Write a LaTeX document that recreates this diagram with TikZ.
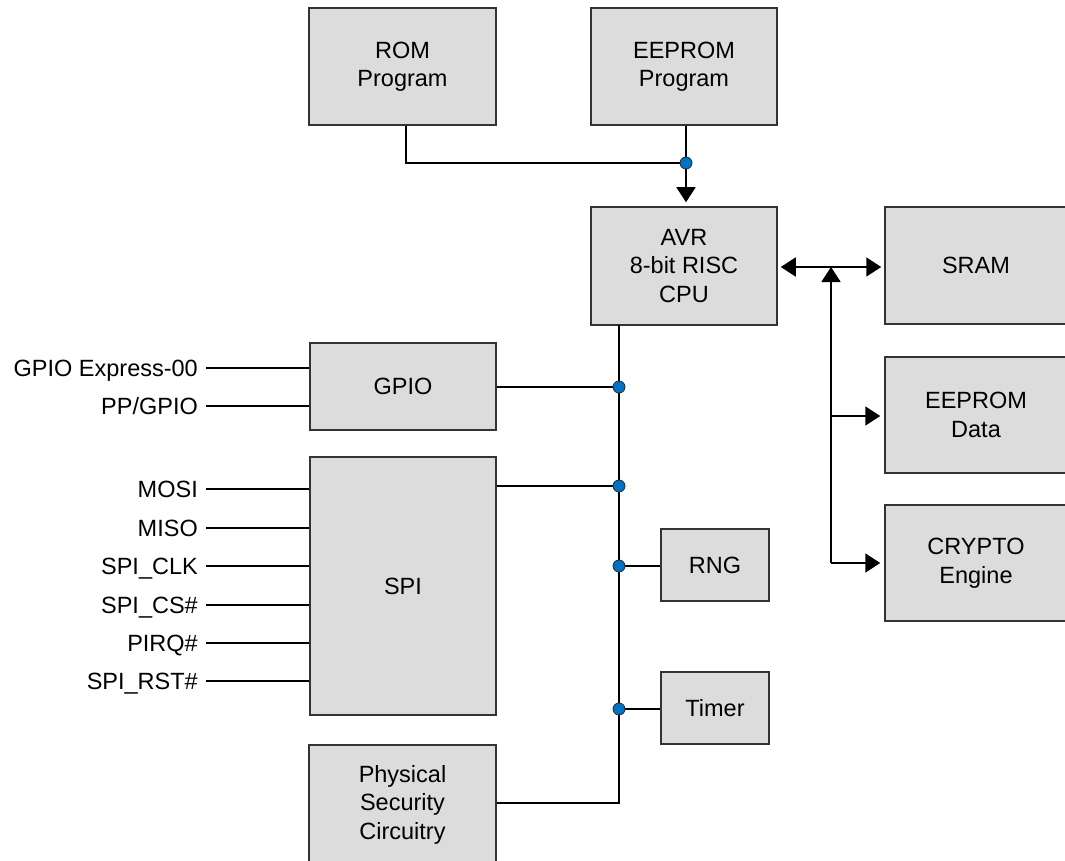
\documentclass[tikz,border=0pt]{standalone}
\usepackage{fontspec}
\setmainfont{Liberation Sans}
\usetikzlibrary{arrows.meta}
\definecolor{boxfill}{HTML}{DCDCDC}
\definecolor{boxline}{HTML}{333333}
\definecolor{dotblue}{HTML}{0072C6}
\begin{document}
\begin{tikzpicture}[x=1pt,y=-1pt, font=\fontsize{23.5}{28.5}\selectfont,
  blk/.style={draw=boxline, fill=boxfill, line width=1.5pt, inner sep=0pt, align=center},
  wire/.style={line width=1.8pt, draw=black},
  jdot/.style={circle, fill=dotblue, draw=black!85, line width=0.8pt, minimum size=12pt, inner sep=0pt},
  arr/.style={-{Triangle[length=15pt,width=19pt]}},
  darr/.style={{Triangle[length=15pt,width=19pt]}-{Triangle[length=15pt,width=19pt]}},
  sig/.style={anchor=east, inner sep=0pt, text height=17pt, text depth=0pt}]
\useasboundingbox (0,0) rectangle (1065,861);
\fill[white] (0,0) rectangle (1065,861);

% blocks
\node[blk, minimum width=187pt, minimum height=117pt] (rom) at (402.5,66.5) {ROM\\Program};
\node[blk, minimum width=186pt, minimum height=117pt] (eep) at (684,66.5) {EEPROM\\Program};
\node[blk, minimum width=186pt, minimum height=118pt] (avr) at (684,266) {AVR\\8-bit RISC\\CPU};
\node[blk, minimum width=182pt, minimum height=117pt] (sram) at (976,265.5) {SRAM};
\node[blk, minimum width=182pt, minimum height=116pt] (eepd) at (976,415) {EEPROM\\Data};
\node[blk, minimum width=182pt, minimum height=116pt] (crypto) at (976,563) {CRYPTO\\Engine};
\node[blk, minimum width=186pt, minimum height=87pt] (gpio) at (403,386.5) {GPIO};
\node[blk, line width=2.6pt, minimum width=186pt, minimum height=258pt] (spi) at (403,586) {SPI};
\node[blk, minimum width=108pt, minimum height=72pt] (rng) at (715,565) {RNG};
\node[blk, minimum width=108pt, minimum height=72pt] (timer) at (715,708) {Timer};
\node[blk, minimum width=187pt, minimum height=119pt] (phys) at (402.5,804.5) {Physical\\Security\\Circuitry};

% signal labels
\node[sig] (s1) at (198,368) {GPIO Express-00};
\node[sig] (s2) at (198,406) {PP/GPIO};
\node[sig] (s3) at (198,489) {MOSI};
\node[sig] (s4) at (198,528) {MISO};
\node[sig] (s5) at (198,566) {SPI\_CLK};
\node[sig] (s6) at (198,605) {SPI\_CS\#};
\node[sig] (s7) at (198,643) {PIRQ\#};
\node[sig] (s8) at (198,681) {SPI\_RST\#};
\foreach \s/\b in {s1/gpio,s2/gpio,s3/spi,s4/spi,s5/spi,s6/spi,s7/spi,s8/spi}
  \draw[wire] ([xshift=8pt]\s.east) -- (\b.west |- \s.east);

% coordinates
\coordinate (j1) at (686,163);
\coordinate (j2) at (831,267);
\coordinate (j3) at (831,416);
\coordinate (j4) at (831,563);
\coordinate (b0) at (619,325);
\coordinate (bg) at (619,387);
\coordinate (bs) at (619,486);
\coordinate (br) at (619,566);
\coordinate (bt) at (619,709);
\coordinate (bp) at (619,803);

% top program bus
\draw[wire] ([xshift=3.5pt]rom.south) |- (j1);
\draw[wire] (eep.south -| j1) -- (j1);
\draw[wire, arr, shorten >=4pt] (j1) -- (avr.north -| j1);

% cpu - memory bus
\draw[wire, darr, shorten <=3pt, shorten >=3pt] (avr.east |- j2) -- (sram.west |- j2);
\draw[wire, arr] (j4) -- (j2);
\draw[wire, arr, shorten >=4pt] (j3) -- (eepd.west |- j3);
\draw[wire, arr, shorten >=4pt] (j4) -- (crypto.west |- j4);

% peripheral bus
\draw[wire] (b0) -- (bp) -- (phys.east |- bp);
\draw[wire] (gpio.east |- bg) -- (bg);
\draw[wire] (spi.east |- bs) -- (bs);
\draw[wire] (br) -- (rng.west |- br);
\draw[wire] (bt) -- (timer.west |- bt);

% junction dots
\foreach \p/\n in {j1/d1,bg/d2,bs/d3,br/d4,bt/d5}
  \node[jdot] (\n) at (\p) {};
\end{tikzpicture}
\end{document}
